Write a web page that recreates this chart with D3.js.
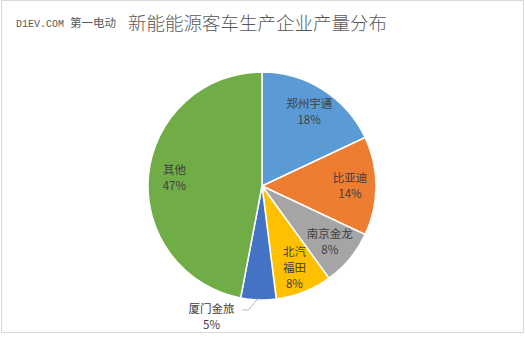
<!DOCTYPE html>
<html>
<head>
<meta charset="utf-8">
<script src="https://cdn.jsdelivr.net/npm/d3@7"></script>
<style>
  body { margin: 0; background: #fff; }
  text { font-family: "Noto Sans CJK SC", "Microsoft YaHei", sans-serif; }
</style>
</head>
<body>
<svg id="chart"></svg>
<script>
var names = ["郑州宇通", "比亚迪", "南京金龙", "北汽福田", "厦门金旅", "其他"];
var labelLines = [["郑州宇通"], ["比亚迪"], ["南京金龙"], ["北汽", "福田"], ["厦门金旅"], ["其他"]];
var values = [18, 14, 8, 8, 5, 47];
var colors = ["#5b9bd5", "#ed7d31", "#a5a5a5", "#ffc000", "#4472c4", "#70ad47"];

var w = 525;
var h = 337;
var cx = 262;
var cy = 186;
var r = 114;

var svg = d3.select("#chart")
    .attr("width", w)
    .attr("height", h);

// chart border
svg.append("rect")
    .attr("x", 1.5)
    .attr("y", 0.5)
    .attr("width", w - 3)
    .attr("height", h - 5)
    .attr("fill", "#fff")
    .attr("stroke", "#d9d9d9");

// titles
var sub = svg.append("text")
    .attr("x", 16)
    .attr("y", 27)
    .attr("fill", "#595959");
sub.append("tspan")
    .text("D1EV.COM ")
    .attr("font-family", "Liberation Mono, monospace")
    .attr("font-size", "10px");
sub.append("tspan")
    .text("第一电动")
    .attr("font-size", "11.5px");

svg.append("text")
    .text("新能能源客车生产企业产量分布")
    .attr("x", 128)
    .attr("y", 30)
    .attr("font-size", "18.5px")
    .attr("font-weight", 300)
    .attr("fill", "#595959");

var pie = d3.pie().sort(null).value(function (d) { return d; });
var arcs = pie(values);

var arc = d3.arc().innerRadius(0).outerRadius(r);
var labelArc = d3.arc().innerRadius(88).outerRadius(88);
var outerArc = d3.arc().innerRadius(r - 2).outerRadius(r - 2);

var g = svg.append("g").attr("transform", "translate(" + cx + "," + cy + ")");

g.selectAll("path.slice")
    .data(arcs)
    .enter()
    .append("path")
    .attr("class", "slice")
    .attr("d", arc)
    .attr("fill", function (d, i) { return colors[i]; })
    .attr("stroke", "#fff")
    .attr("stroke-width", 1.5);

// labels
arcs.forEach(function (d, i) {
    var lines = labelLines[i].concat([values[i] + "%"]);
    var lh = 16;
    var pos;
    if (i === 4) {
        // outside label with leader line
        var p = outerArc.centroid(d);
        var q = [p[0] - 10, p[1] + 12];
        var s = [q[0] - 6, q[1]];
        g.append("polyline")
            .attr("points", [p, q, s].map(function (a) { return a.join(","); }).join(" "))
            .attr("fill", "none")
            .attr("stroke", "#a6a6a6")
            .attr("stroke-width", 0.8);
        pos = [s[0] - 31, s[1] + 7];
    } else {
        pos = labelArc.centroid(d);
    }
    var y0 = pos[1] - (lines.length - 1) * lh / 2;
    var t = g.append("text")
        .attr("text-anchor", "middle")
        .attr("font-size", "11.5px")
        .attr("fill", "#404040");
    lines.forEach(function (l, k) {
        t.append("tspan")
            .attr("x", pos[0])
            .attr("y", y0 + k * lh)
            .attr("dy", "0.35em")
            .text(l);
    });
});
</script>
</body>
</html>
